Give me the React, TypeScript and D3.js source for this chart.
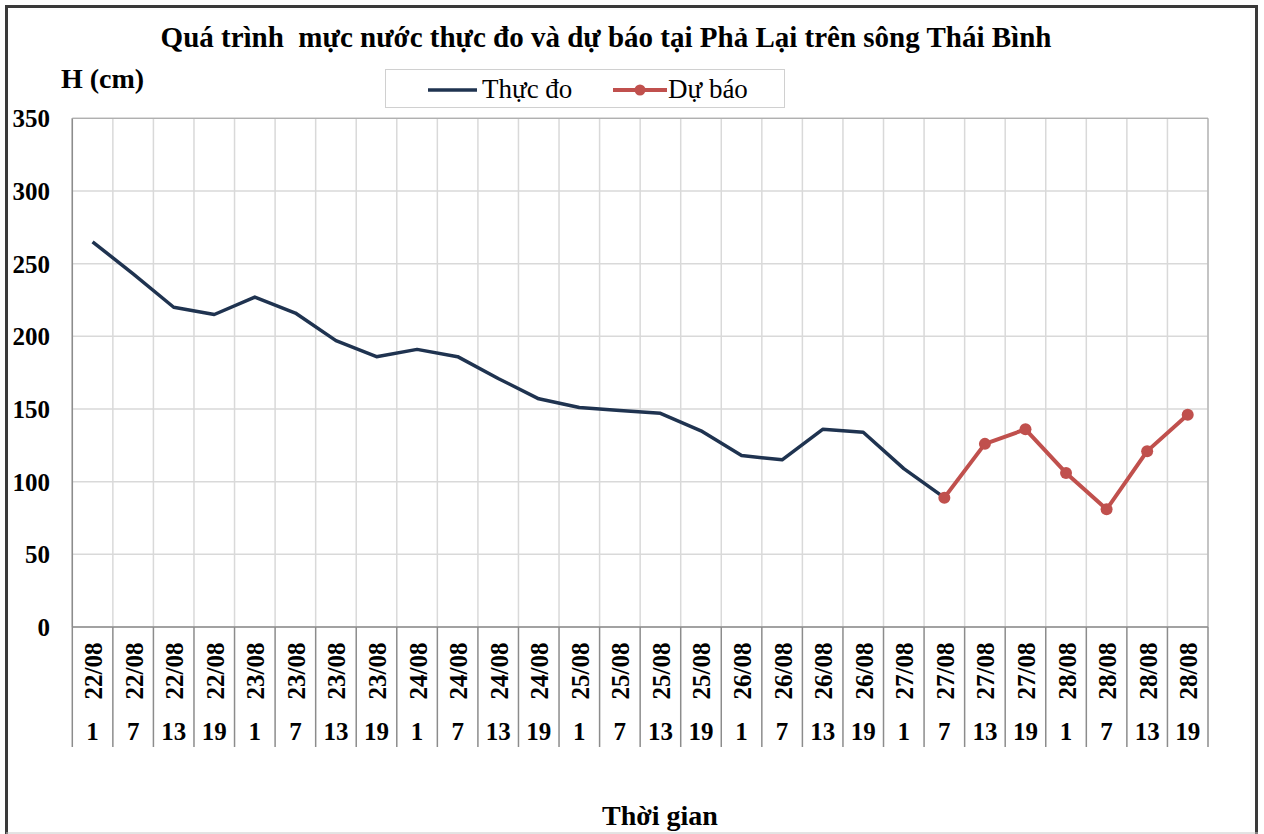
import React from "react";
import * as d3 from "d3";

const dates = [
  "22/08", "22/08", "22/08", "22/08",
  "23/08", "23/08", "23/08", "23/08",
  "24/08", "24/08", "24/08", "24/08",
  "25/08", "25/08", "25/08", "25/08",
  "26/08", "26/08", "26/08", "26/08",
  "27/08", "27/08", "27/08", "27/08",
  "28/08", "28/08", "28/08", "28/08",
];
const hours = [
  "1", "7", "13", "19", "1", "7", "13", "19",
  "1", "7", "13", "19", "1", "7", "13", "19",
  "1", "7", "13", "19", "1", "7", "13", "19",
  "1", "7", "13", "19",
];
// Thực đo (observed), indices 0..21
const observed = [265, 243, 220, 215, 227, 216, 197, 186, 191, 186, 171, 157, 151, 149, 147, 135, 118, 115, 136, 134, 109, 89];
// Dự báo (forecast), starting at index 21
const forecastStart = 21;
const forecast = [89, 126, 136, 106, 81, 121, 146];
const yTicks = [0, 50, 100, 150, 200, 250, 300, 350];

const FONT = "'Liberation Serif', 'Times New Roman', serif";

export default function App() {
  const left = 72.3, right = 1208, top = 118.3, bottom = 627;
  const idx = dates.map((_, i) => i);
  const x = d3.scaleBand<number>().domain(idx).range([left, right]).padding(0);
  const y = d3.scaleLinear().domain([0, 350]).range([bottom, top]);
  const cx = (i: number) => (x(i) as number) + x.bandwidth() / 2;

  const obsLine = d3.line<number>().x((_, i) => cx(i)).y((d) => y(d))(observed) as string;
  const fcPts = forecast.map((v, k) => ({ i: forecastStart + k, v }));
  const fcLine = d3.line<{ i: number; v: number }>().x((d) => cx(d.i)).y((d) => y(d.v))(fcPts) as string;

  const bounds = d3.range(dates.length + 1).map((k) => left + k * x.bandwidth());
  const axisBottom = 747;

  return (
    <svg width={1264} height={834} style={{ position: "absolute", left: 0, top: 0, background: "#fff" }}>
      {/* outer frame */}
      <rect x={6.5} y={6.5} width={1250} height={840} fill="#fff" stroke="#3a3a3a" strokeWidth={3} />
      <line x1={6} x2={1258} y1={833} y2={833} stroke="#c8c8c8" strokeWidth={1} />

      {/* title */}
      <text x={606} y={47} textAnchor="middle" fontFamily={FONT} fontWeight="bold" fontSize={29} fill="#000" style={{ whiteSpace: "pre" }}>
        {"Quá trình  mực nước thực đo và dự báo tại Phả Lại trên sông Thái Bình"}
      </text>
      <text x={61} y={88} fontFamily={FONT} fontWeight="bold" fontSize={28} fill="#000">H (cm)</text>

      {/* legend */}
      <rect x={385.5} y={69.5} width={399} height={38} fill="#fff" stroke="#d0d0d0" strokeWidth={1} />
      <line x1={428} x2={477} y1={90} y2={90} stroke="#1f3350" strokeWidth={3.5} />
      <text x={482} y={98} fontFamily={FONT} fontSize={27} fill="#000">Thực đo</text>
      <line x1={613} x2={667} y1={90} y2={90} stroke="#c0504d" strokeWidth={4} />
      <circle cx={640} cy={90} r={5.5} fill="#c0504d" />
      <text x={668} y={98} fontFamily={FONT} fontSize={27} fill="#000">Dự báo</text>

      {/* gridlines */}
      {yTicks.map((t) => (
        <line key={"h" + t} x1={left} x2={right} y1={y(t)} y2={y(t)} stroke="#d9d9d9" strokeWidth={1.5} />
      ))}
      {bounds.map((b, k) => (
        <line key={"v" + k} x1={b} x2={b} y1={top} y2={bottom} stroke="#d9d9d9" strokeWidth={1.5} />
      ))}
      {/* plot borders / axes */}
      <line x1={left} x2={left} y1={top} y2={bottom} stroke="#8c8c8c" strokeWidth={1.5} />
      <line x1={left} x2={right} y1={top} y2={top} stroke="#a6a6a6" strokeWidth={1} />
      <line x1={right} x2={right} y1={top} y2={bottom} stroke="#a6a6a6" strokeWidth={1} />
      <line x1={left} x2={right} y1={bottom} y2={bottom} stroke="#8c8c8c" strokeWidth={1.5} />
      {bounds.map((b, k) => (
        <line key={"s" + k} x1={b} x2={b} y1={bottom} y2={axisBottom} stroke="#8c8c8c" strokeWidth={1.5} />
      ))}

      {/* y tick labels */}
      {yTicks.map((t) => (
        <text key={"yt" + t} x={50} y={y(t) + 9} textAnchor="end" fontFamily={FONT} fontWeight="bold" fontSize={25} fill="#000">
          {t}
        </text>
      ))}

      {/* x category labels */}
      {idx.map((i) => (
        <g key={"xl" + i}>
          <text
            transform={`translate(${cx(i) + 1}, 671) rotate(-90)`}
            textAnchor="middle"
            dominantBaseline="central"
            fontFamily={FONT}
            fontWeight="bold"
            fontSize={25}
            fill="#000"
          >
            {dates[i]}
          </text>
          <text x={cx(i)} y={740} textAnchor="middle" fontFamily={FONT} fontWeight="bold" fontSize={25} fill="#000">
            {hours[i]}
          </text>
        </g>
      ))}

      {/* x axis title */}
      <text x={660} y={825} textAnchor="middle" fontFamily={FONT} fontWeight="bold" fontSize={28} fill="#000">Thời gian</text>

      {/* series */}
      <path d={obsLine} fill="none" stroke="#1f3350" strokeWidth={3.5} strokeLinejoin="round" />
      <path d={fcLine} fill="none" stroke="#c0504d" strokeWidth={4} strokeLinejoin="round" />
      {fcPts.map((p) => (
        <circle key={"m" + p.i} cx={cx(p.i)} cy={y(p.v)} r={6} fill="#c0504d" />
      ))}
    </svg>
  );
}
